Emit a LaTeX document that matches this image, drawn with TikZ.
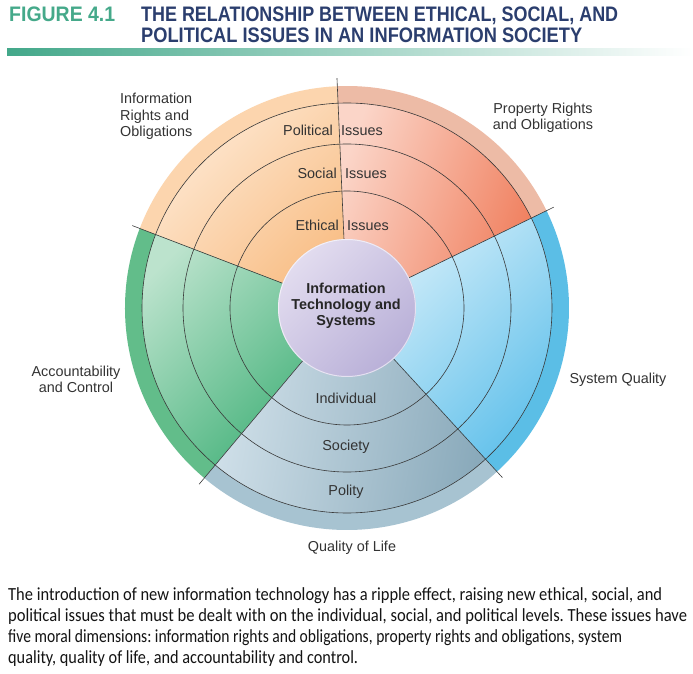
\documentclass[tikz,border=0pt]{standalone}
\usepackage{fontspec}
\usepackage{graphicx}
\setmainfont{Liberation Sans}
\newfontfamily\capfont{Carlito}
\frenchspacing
\definecolor{redL}{HTML}{FBD5C8}
\definecolor{redD}{HTML}{F07F5E}
\definecolor{redBand}{HTML}{EDBBA6}
\definecolor{orL}{HTML}{FEE8D2}
\definecolor{orD}{HTML}{F8BD84}
\definecolor{orBand}{HTML}{FCD5AE}
\definecolor{grL}{HTML}{BCE3CD}
\definecolor{grD}{HTML}{40B077}
\definecolor{grBand}{HTML}{62BD8A}
\definecolor{gyL}{HTML}{D0E0E9}
\definecolor{gyD}{HTML}{8AAABB}
\definecolor{gyBand}{HTML}{A7C3D1}
\definecolor{blL}{HTML}{D6EFFA}
\definecolor{blD}{HTML}{62C1EB}
\definecolor{blBand}{HTML}{5BBEE6}
\definecolor{lavL}{HTML}{E2DCEF}
\definecolor{lavD}{HTML}{B9B0D8}
\definecolor{txtGray}{HTML}{333333}
\definecolor{lineGray}{HTML}{3A3A3A}
\definecolor{figTeal}{HTML}{45A98A}
\definecolor{titleNavy}{HTML}{2B3E6E}
\definecolor{barTeal}{HTML}{43A88A}
\begin{document}
\begin{tikzpicture}[x=1pt,y=1pt,
  lbl/.style={font=\fontsize{14.4}{16.5}\selectfont, text=txtGray, inner sep=0pt, align=center},
  ctr/.style={font=\fontsize{14.4}{16}\selectfont\bfseries, text=black!85, inner sep=0pt, align=center},
  ringline/.style={draw=lineGray, line width=0.6pt},
  divline/.style={draw=lineGray, line width=0.6pt},
  titlefig/.style={font=\fontsize{21}{22}\selectfont\bfseries, text=figTeal, inner sep=0pt, anchor=base west},
  titletxt/.style={font=\fontsize{21}{22}\selectfont\bfseries, text=titleNavy, inner sep=0pt, anchor=base west},
  captxt/.style={font=\capfont\fontsize{18.5}{21}\selectfont, text=black!92, inner sep=0pt, anchor=base west}]
\fill[white] (0,0) rectangle (693,673);
\useasboundingbox (0,0) rectangle (693,673);
% title
\node[titlefig] (fig) at (9,651) {\resizebox{106pt}{\height}{FIGURE 4.1}};
\node[titletxt] (t1) at (141,651) {\resizebox{477pt}{\height}{THE RELATIONSHIP BETWEEN ETHICAL, SOCIAL, AND}};
\node[titletxt] (t2) at (141,630) {\resizebox{441pt}{\height}{POLITICAL ISSUES IN AN INFORMATION SOCIETY}};
\shade[left color=barTeal, right color=white] (7,617) rectangle (693,624);
% diagram
\coordinate (C) at (347,365);
\foreach \a/\b/\band/\lt/\dk/\sa in {26/92.5/redBand/redL/redD/70, 92.5/159/orBand/orL/orD/45, 159/230/grBand/grL/grD/45, 230/312.5/gyBand/gyL/gyD/80, 312.5/386/blBand/blL/blD/45}{
  \fill[\band] (C) -- ++(\a:222pt) arc[start angle=\a, end angle=\b, radius=222pt] -- cycle;
  \shade[top color=\lt, bottom color=\dk, shading angle=\sa] (C) -- ++(\a:205pt) arc[start angle=\a, end angle=\b, radius=205pt] -- cycle;
}
\foreach \r in {117,164,205}{\draw[ringline] (C) circle[radius=\r pt];}
\foreach \a in {26,92.5,159,230,312.5}{\draw[divline] (C) ++(\a:69pt) -- ++(\a:161pt);}
\shade[top color=lavL, bottom color=lavD, shading angle=45] (C) circle[radius=69pt];
\draw[white, draw opacity=0.6, line width=1pt] (C) circle[radius=68.5pt];
% labels
\node[ctr] (its) at (346,367) {Information\\Technology and\\Systems};
\node[lbl, anchor=mid east] (pol) at (333,540) {Political};
\node[lbl, anchor=mid west] (poli) at (341,540) {Issues};
\node[lbl, anchor=mid east] (soc) at (337,497) {Social};
\node[lbl, anchor=mid west] (soci) at (345,497) {Issues};
\node[lbl, anchor=mid east] (eth) at (339,445) {Ethical};
\node[lbl, anchor=mid west] (ethi) at (347,445) {Issues};
\node[lbl] (ind) at (346,275) {Individual};
\node[lbl] (socy) at (346,226) {Society};
\node[lbl] (polity) at (346,181) {Polity};
\node[lbl, anchor=west, align=left] (irights) at (120,556.5) {Information\\Rights and\\Obligations};
\node[lbl] (prights) at (543,555) {Property Rights\\and Obligations};
\node[lbl] (acc) at (76,293.5) {Accountability\\and Control};
\node[lbl] (sysq) at (618,293) {System Quality};
\node[lbl] (qol) at (352,125) {Quality of Life};
% caption
\node[captxt] (c1) at (8,73) {\resizebox{654pt}{\height}{The introduction of new information technology has a ripple effect, raising new ethical, social, and}};
\node[captxt] (c2) at (8,52) {\resizebox{679pt}{\height}{political issues that must be dealt with on the individual, social, and political levels. These issues have}};
\node[captxt] (c3) at (8,31) {\resizebox{614pt}{\height}{five moral dimensions: information rights and obligations, property rights and obligations, system}};
\node[captxt] (c4) at (8,10) {\resizebox{350pt}{\height}{quality, quality of life, and accountability and control.}};
\end{tikzpicture}
\end{document}
